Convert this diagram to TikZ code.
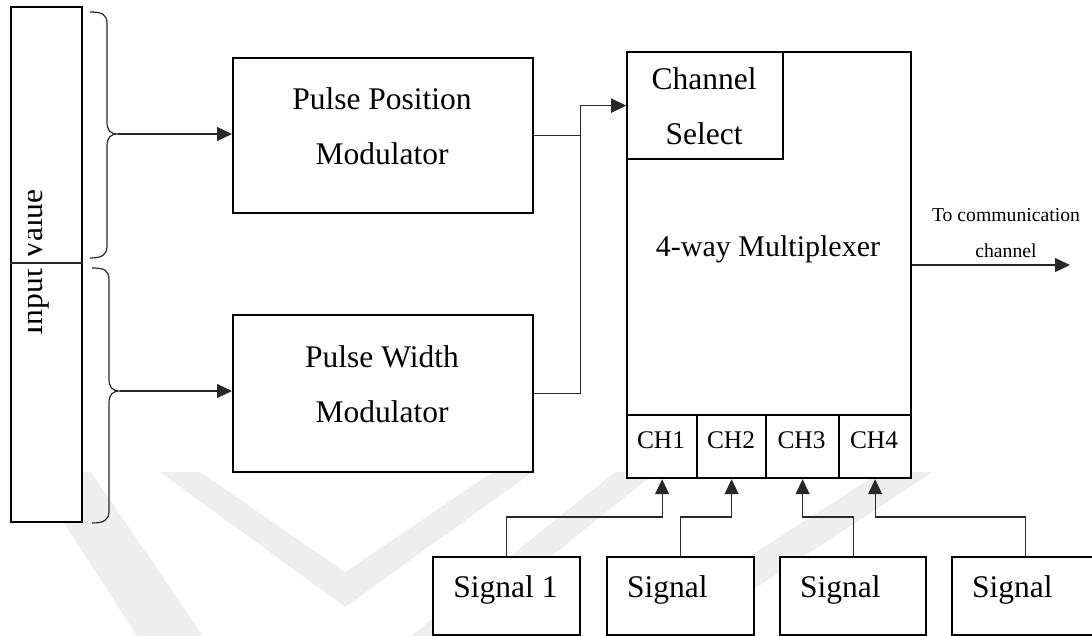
\documentclass[tikz,border=0pt]{standalone}
\usepackage{fontspec}
\setmainfont{Liberation Serif}
\usetikzlibrary{arrows.meta}
\definecolor{wmgray}{RGB}{238,238,238}
\definecolor{wirecol}{RGB}{40,40,40}

\begin{document}
\begin{tikzpicture}[x=1pt,y=-1pt,
  blk/.style={draw, line width=2.2pt, fill=white, inner sep=0pt, anchor=north west},
  wire/.style={draw=wirecol, line width=1.2pt},
  arr/.style={wire, -{Triangle[length=15pt,width=14pt]}},
  lbl/.style={font=\fontsize{31.5}{36}\selectfont, anchor=base, inner sep=0pt},
  mlbl/.style={font=\fontsize{30}{36}\selectfont, anchor=base, inner sep=0pt},
  chl/.style={font=\fontsize{25.4}{30}\selectfont, anchor=base, inner sep=0pt},
  sml/.style={font=\fontsize{19.7}{24}\selectfont, anchor=base, inner sep=0pt},
]
\useasboundingbox (0,0) rectangle (1092,636);
\clip (0,0) rectangle (1092,636);
\fill[white] (0,0) rectangle (1092,636);

% faint background emblem
\fill[wmgray] (160,472) -- (200,472) -- (345,572) -- (493,472) -- (533,472) -- (345,607) -- cycle;
\fill[wmgray] (31,472) -- (91,472) -- (203,636) -- (137,636) -- cycle;
\fill[wmgray] (615,472) -- (656,472) -- (452,636) -- (411,636) -- cycle;
\fill[wmgray] (880,472) -- (933,472) -- (682,636) -- (627,636) -- cycle;

% input block
\node[blk, minimum width=71pt, minimum height=515pt] (inp) at (10,6) {};
\draw[wire] (inp.west |- 0,263) -- (inp.east |- 0,263);
\begin{scope}
  \clip (28,150) rectangle (70,360);
  \node[lbl, rotate=90] (inptxt) at (42,262.5) {Input Value};
\end{scope}

% braces gathering the input halves
\draw[wire] (90,12) .. controls (102,12) and (107,14) .. (107,24) -- (107,122)
  .. controls (107,130) and (110,134) .. (118,134)
  .. controls (110,134) and (107,138) .. (107,146) -- (107,246)
  .. controls (107,255) and (102,258) .. (90,258);
\coordinate (ta) at (118,134);
\draw[wire] (92,268) .. controls (104,268) and (109,270) .. (109,280) -- (109,379)
  .. controls (109,387) and (112,391) .. (120,391)
  .. controls (112,391) and (109,395) .. (109,403) -- (109,511)
  .. controls (109,520) and (104,523) .. (92,523);
\coordinate (tb) at (120,391);

% modulators
\node[blk, minimum width=300pt, minimum height=155pt] (ppm) at (232,57) {};
\node[lbl] (ppmt1) at (382,110) {Pulse Position};
\node[lbl] (ppmt2) at (382,165) {Modulator};
\node[blk, minimum width=300pt, minimum height=157pt] (pwm) at (232,314) {};
\node[lbl] (pwmt1) at (382,367) {Pulse Width};
\node[lbl] (pwmt2) at (382,422) {Modulator};

% multiplexer
\node[blk, minimum width=284pt, minimum height=426pt] (mux) at (626,51) {};
\node[blk, minimum width=156pt, minimum height=107pt] (cs) at (626,51) {};
\node[lbl] (cst1) at (704,90) {Channel};
\node[lbl] (cst2) at (704,145) {Select};
\node[mlbl] (muxt) at (768,257) {4-way Multiplexer};
\node[blk, minimum width=70pt, minimum height=63pt] (ch1) at (626,414) {};
\node[blk, minimum width=69pt, minimum height=63pt] (ch2) at (696,414) {};
\node[blk, minimum width=73pt, minimum height=63pt] (ch3) at (765,414) {};
\node[blk, minimum width=72pt, minimum height=63pt] (ch4) at (838,414) {};
\node[chl] (ch1t) at (661,448) {CH1};
\node[chl] (ch2t) at (731,448) {CH2};
\node[chl] (ch3t) at (801.5,448) {CH3};
\node[chl] (ch4t) at (874,448) {CH4};

% signal sources
\node[blk, minimum width=147pt, minimum height=78pt] (s1) at (432,556) {};
\node[blk, minimum width=147pt, minimum height=78pt] (s2) at (606,556) {};
\node[blk, minimum width=146pt, minimum height=78pt] (s3) at (779,556) {};
\node[blk, minimum width=147pt, minimum height=78pt] (s4) at (951,556) {};
\node[lbl] (s1t) at (505.5,597) {Signal 1};
\node[lbl, anchor=base west] (s2t) at (627,597) {Signal};
\node[lbl, anchor=base west] (s3t) at (800,597) {Signal};
\node[lbl, anchor=base west] (s4t) at (972,597) {Signal};

% output label
\node[sml] (outt1) at (1006,222) {To communication};
\node[sml] (outt2) at (1006,258) {channel};
\coordinate (out) at (1070,265);

% connectors
\draw[arr] (ta) -- (ta -| ppm.west);
\draw[arr] (tb) -- (tb -| pwm.west);
\draw[arr] (ppm.east) -- ++(46,0) |- (cs.west);
\draw[arr] (pwm.east) -- ++(46,0) |- (cs.west);
\draw[arr] (mux.east |- out) -- (out);
\draw[arr] (s1.north) -- ++(0,-39) -| (ch1.south);
\draw[arr] (s2.north) -- ++(0,-39) -| (ch2.south);
\draw[arr] (s3.north) -- ++(0,-39) -| (ch3.south);
\draw[arr] (s4.north) -- ++(0,-39) -| (ch4.south);
\end{tikzpicture}
\end{document}
